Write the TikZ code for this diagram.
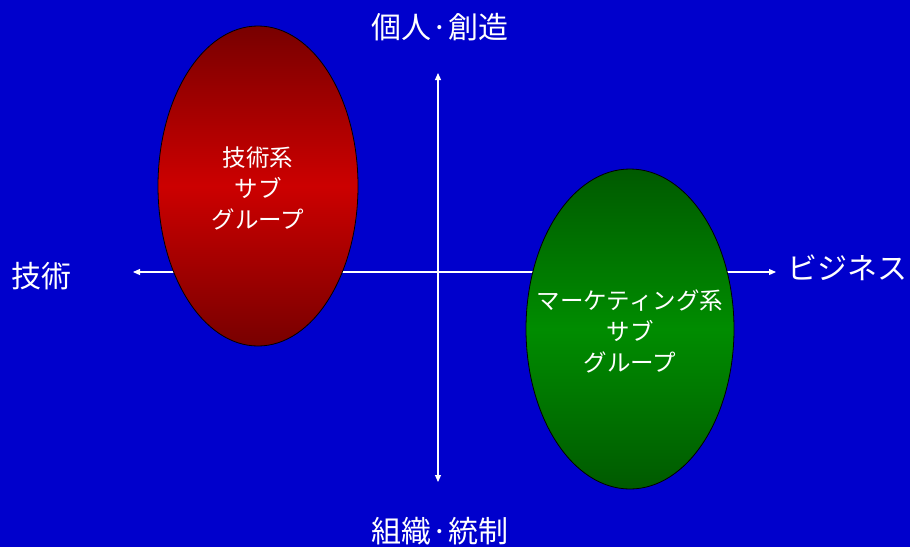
\documentclass[tikz,border=0pt]{standalone}
\usepackage{fontspec}
\setmainfont{Noto Sans CJK JP}
\usetikzlibrary{arrows.meta,shapes.geometric}
\definecolor{bgblue}{HTML}{0000CC}
\definecolor{reddark}{HTML}{780000}
\definecolor{redmid}{HTML}{CC0000}
\definecolor{greendark}{HTML}{005A00}
\definecolor{greenmid}{HTML}{008C00}
\tikzset{
  axis/.style={white, line width=1.1pt, {Triangle[length=7pt,width=6pt]}-{Triangle[length=7pt,width=6pt]}},
  blob/.style={ellipse, draw=black, line width=0.8pt, inner sep=0pt, align=center, text=white,
    font=\fontsize{23}{31}\selectfont},
  blobtext/.style={text=white, align=center, font=\fontsize{23.5}{31}\selectfont},
  axlabel/.style={text=white, font=\fontsize{30}{36}\selectfont, inner sep=0pt}
}
\begin{document}
\begin{tikzpicture}[x=1pt,y=-1pt]
\fill[bgblue] (0,0) rectangle (910,547);
\useasboundingbox (0,0) rectangle (910,547);
\coordinate (top) at (438,73);
\coordinate (bot) at (438,482);
\coordinate (lft) at (133,272);
\coordinate (rgt) at (776,272);
\draw[axis] (lft) -- (rgt);
\draw[axis] (bot) -- (top);
\node[blob, minimum width=200pt, minimum height=320pt, top color=reddark, bottom color=reddark, middle color=redmid] (red) at (258,186) {};
\node[blobtext] (redtxt) at (258,188) {技術系\\サブ\\グループ};
\node[blob, minimum width=208pt, minimum height=320pt, top color=greendark, bottom color=greendark, middle color=greenmid] (green) at (630,329) {};
\node[blobtext] (greentxt) at (630,331) {マーケティング系\\サブ\\グループ};
\node[axlabel] (lt) at (440,27) {個人·創造};
\node[axlabel] (lb) at (440,531) {組織·統制};
\node[axlabel] (ll) at (41,276) {技術};
\node[axlabel] (lr) at (847,268) {ビジネス};
\end{tikzpicture}
\end{document}
